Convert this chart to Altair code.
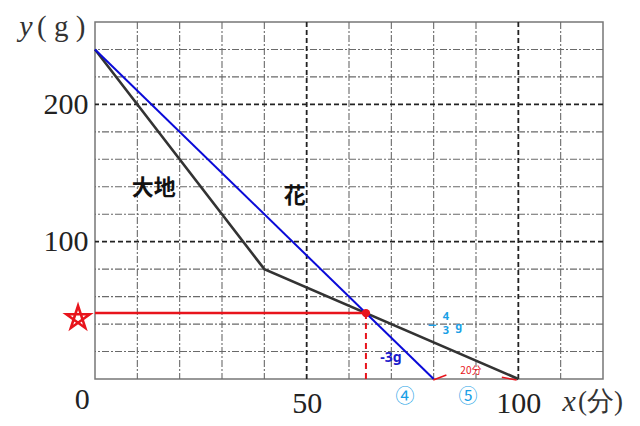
import altair as alt
import pandas as pd

# ---- data ----
daichi_x = [0, 40, 100]
daichi_y = [240, 80, 0]
hana_x = [0, 80]
hana_y = [240, 0]
cross_x = 64
cross_y = 48

grid_minor_x = [10, 20, 30, 40, 60, 70, 80, 90, 110]
grid_major_x = [50, 100]
grid_minor_y = [20, 40, 60, 80, 120, 140, 160, 180, 220, 240]
grid_major_y = [100, 200]

x_tick_labels = [50, 100]
y_tick_labels = [100, 200]

XD = [0, 120]
YD = [0, 260]

xs = alt.Scale(domain=XD, nice=False, zero=False)
ys = alt.Scale(domain=YD, nice=False, zero=False)

SERIF = "Liberation Serif"
CJK = "Noto Sans CJK JP"

x_axis = alt.Axis(values=x_tick_labels, grid=False, domain=False, ticks=False,
                  labelFont=SERIF, labelFontSize=30, labelColor="#222",
                  labelPadding=9, title=None)
y_axis = alt.Axis(values=y_tick_labels, grid=False, domain=False, ticks=False,
                  labelFont=SERIF, labelFontSize=30, labelColor="#222",
                  labelPadding=7, title=None)


def X(field="x"):
    return alt.X(field, type="quantitative", scale=xs, axis=x_axis)


def Y(field="y"):
    return alt.Y(field, type="quantitative", scale=ys, axis=y_axis)


gminx = alt.Chart(pd.DataFrame({"x": grid_minor_x})).mark_rule(
    color="#6a6a6a", strokeWidth=1.1, strokeDash=[7, 2, 2, 2]).encode(x=X())
gmaxx = alt.Chart(pd.DataFrame({"x": grid_major_x})).mark_rule(
    color="#222", strokeWidth=1.8, strokeDash=[5, 3]).encode(x=X())
gminy = alt.Chart(pd.DataFrame({"y": grid_minor_y})).mark_rule(
    color="#6a6a6a", strokeWidth=1.1, strokeDash=[7, 2, 2, 2]).encode(y=Y())
gmaxy = alt.Chart(pd.DataFrame({"y": grid_major_y})).mark_rule(
    color="#222", strokeWidth=1.8, strokeDash=[5, 3]).encode(y=Y())

daichi = alt.Chart(pd.DataFrame({"x": daichi_x, "y": daichi_y})).mark_line(
    color="#333", strokeWidth=2.6).encode(x=X(), y=Y())
hana = alt.Chart(pd.DataFrame({"x": hana_x, "y": hana_y})).mark_line(
    color="#0a0ad8", strokeWidth=2).encode(x=X(), y=Y())

red_h = alt.Chart(pd.DataFrame({"x": [0, cross_x], "y": [cross_y, cross_y]})).mark_line(
    color="#e8141c", strokeWidth=2.5).encode(x=X(), y=Y())
red_v = alt.Chart(pd.DataFrame({"x": [cross_x, cross_x], "y": [cross_y, 0]})).mark_line(
    color="#e8141c", strokeWidth=2, strokeDash=[6, 4]).encode(x=X(), y=Y())
red_dot = alt.Chart(pd.DataFrame({"x": [cross_x], "y": [cross_y]})).mark_point(
    color="#e8141c", filled=True, size=70, opacity=1).encode(x=X(), y=Y())

# small red bracket marks for "20分"
br = pd.DataFrame({"x": [79.9, 83.0, 96.1, 99.6], "y": [-0.7, 2.9, 1.2, -0.7],
                   "g": ["a", "a", "b", "b"]})
brackets = alt.Chart(br).mark_line(color="#e8141c", strokeWidth=1.5).encode(
    x=X(), y=Y(), detail="g:N")

star_path = "M0,-1L0.588,0.809L-0.951,-0.309L0.951,-0.309L-0.588,0.809Z"
star = alt.Chart(pd.DataFrame({"x": [-4.0], "y": [44.4]})).mark_point(
    shape=star_path, size=600, filled=False, color="#e8141c", strokeWidth=2.6,
    opacity=1).encode(x=X(), y=Y())


def texts(xv, yv, tv, **kw):
    return alt.Chart(pd.DataFrame({"x": xv, "y": yv, "t": tv})).mark_text(
        baseline="middle", align="center", **kw).encode(x=X(), y=Y(), text="t:N")


zero = texts([-3.0], [-15.5], ["0"], font=SERIF, fontSize=30, color="#222")
ylab_y = texts([-16.3], [256.5], ["y"], font=SERIF, fontSize=30, fontStyle="italic", color="#333")
ylab_g = texts([-8.0], [256.5], ["( g )"], font=SERIF, fontSize=29, color="#333")
xlab_x = texts([112.0], [-16.5], ["x"], font=SERIF, fontSize=30, fontStyle="italic", color="#333")
xlab_f = texts([119.4], [-16.5], ["(分)"], font=SERIF, fontSize=27, color="#333")

names = texts([13.9, 47.2], [139.1, 133.3], ["大地", "花"], font=CJK, fontSize=22,
              fontWeight="bold", color="#111")

cyan = "#1a9fe6"
frac_minus = texts([79.6], [39.6], ["\u2212"], font="DejaVu Sans", fontSize=12,
                   fontWeight="bold", color=cyan)
frac = texts([82.9, 82.9, 85.9], [45.0, 35.0, 37.9], ["4", "3", "g"],
             font="Noto Sans", fontSize=11, fontWeight="bold", color=cyan)
minus3 = texts([69.9], [15.3], ["-3g"], font="Noto Sans", fontSize=14, fontWeight="bold",
               color="#1a1acc")
twenty = texts([88.8], [5.8], ["20分"], font=CJK, fontSize=10, color="#e8141c")
circled = texts([73.2, 88.1], [-13.1, -13.1], ["④", "⑤"], font=CJK, fontSize=19, color=cyan)

chart = alt.layer(
    gminx, gminy, gmaxx, gmaxy, daichi, hana, red_h, red_v, red_dot,
    brackets, star, zero, ylab_y, ylab_g, xlab_x, xlab_f, names, frac_minus, frac,
    minus3, twenty, circled
).properties(
    width=508, height=357,
    autosize=alt.AutoSizeParams(type="none"),
    padding={"left": 87, "top": 14, "right": 29, "bottom": 39},
).configure_view(stroke="#777", strokeWidth=1.5)

chart.save("out.html", embed_options={"renderer": "svg", "actions": False})
